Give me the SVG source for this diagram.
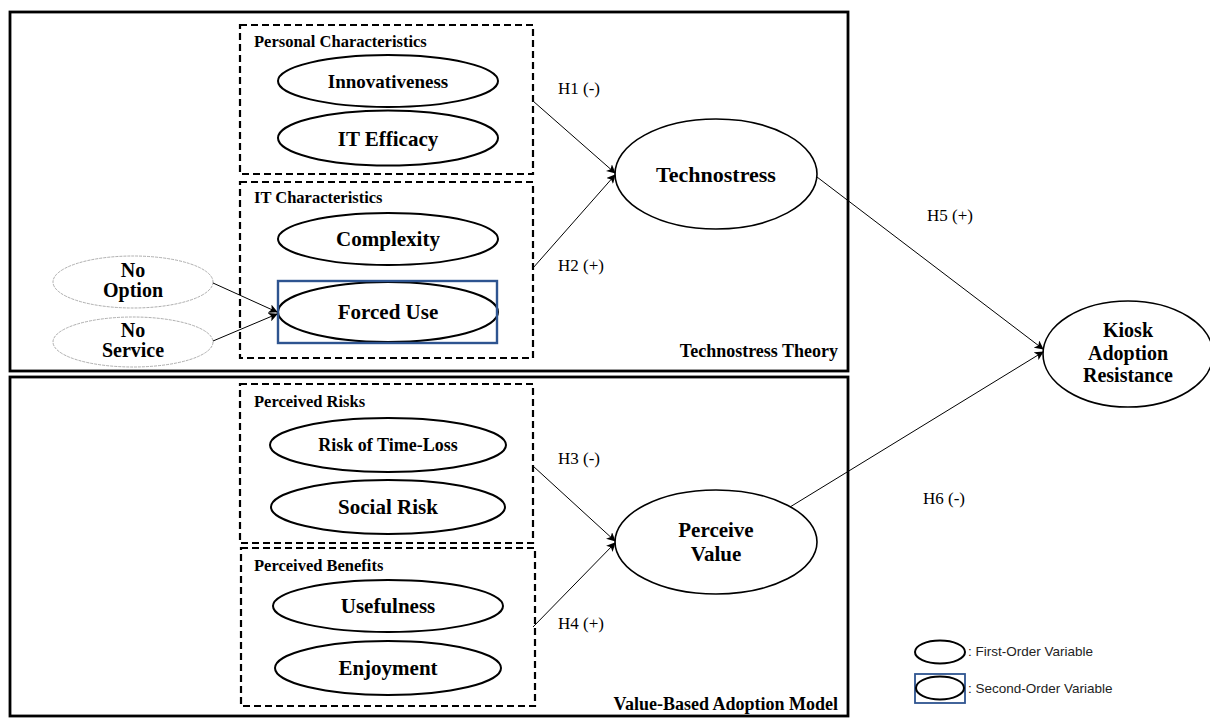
<svg xmlns="http://www.w3.org/2000/svg" width="1210" height="718" viewBox="0 0 1210 718">
<defs>
<marker id="ah" viewBox="0 0 10 10" refX="9" refY="5" markerWidth="9" markerHeight="9" markerUnits="userSpaceOnUse" orient="auto">
<path d="M0,0 L10,5 L0,10 L2.5,5 Z" fill="#000"/>
</marker>
<style>
.outer{fill:none;stroke:#000;stroke-width:2.8}
.dash{fill:none;stroke:#000;stroke-width:2.2;stroke-dasharray:7 4}
.el{fill:#fff;stroke:#000;stroke-width:2}
.big{fill:#fff;stroke:#000;stroke-width:1.6}
.thin{fill:#fff;stroke:#999;stroke-width:0.8;stroke-dasharray:3 1}
.sec{fill:none;stroke:#2e5490;stroke-width:2.4}
.t{font-family:"Liberation Serif",serif;font-weight:bold;text-anchor:middle;fill:#000}
.n{font-size:21px}
.g{font-family:"Liberation Serif",serif;font-weight:bold;font-size:16.5px;fill:#000}
.f{font-family:"Liberation Serif",serif;font-weight:bold;font-size:18px;fill:#000;text-anchor:end}
.h{font-family:"Liberation Serif",serif;font-size:17px;fill:#000}
.lg{font-family:"Liberation Sans",sans-serif;font-size:13.5px;fill:#222}
.c{fill:none;stroke:#000;stroke-width:1;marker-end:url(#ah)}
</style>
</defs>
<rect width="1210" height="718" fill="#fff"/>
<g id="frames">
<rect class="outer" x="10" y="12" width="838" height="359"/>
<rect class="outer" x="10" y="377" width="838" height="339"/>
<text class="f" x="838" y="357">Technostress Theory</text>
<text class="f" x="838" y="710">Value-Based Adoption Model</text>
</g>
<g id="group-personal">
<rect class="dash" x="240" y="25" width="293" height="149"/>
<text class="g" x="254" y="47">Personal Characteristics</text>
</g>
<g id="group-it">
<rect class="dash" x="240" y="182" width="293" height="176"/>
<text class="g" x="254" y="203">IT Characteristics</text>
</g>
<g id="group-risks">
<rect class="dash" x="240" y="384" width="293" height="159"/>
<text class="g" x="254" y="407">Perceived Risks</text>
</g>
<g id="group-benefits">
<rect class="dash" x="241" y="548" width="294" height="158"/>
<text class="g" x="254" y="571">Perceived Benefits</text>
</g>
<g id="innovativeness"><ellipse class="el" cx="388" cy="81" rx="110" ry="26"/><text class="t" x="388" y="88" font-size="19">Innovativeness</text></g>
<g id="it-efficacy"><ellipse class="el" cx="388" cy="138" rx="110" ry="27.5"/><text class="t n" x="388" y="146">IT Efficacy</text></g>
<g id="complexity"><ellipse class="el" cx="388" cy="239" rx="110" ry="26"/><text class="t n" x="388" y="246">Complexity</text></g>
<g id="forced-use"><ellipse class="el" cx="388" cy="312" rx="110" ry="30"/><rect class="sec" x="278" y="281" width="219" height="62"/><text class="t n" x="388" y="319">Forced Use</text></g>
<g id="no-option"><ellipse class="thin" cx="133" cy="282" rx="80" ry="26"/><text class="t" font-size="20" x="133" y="277">No</text><text class="t" font-size="20" x="133" y="297">Option</text></g>
<g id="no-service"><ellipse class="thin" cx="133" cy="342" rx="80" ry="25"/><text class="t" font-size="20" x="133" y="337">No</text><text class="t" font-size="20" x="133" y="357">Service</text></g>
<g id="risk-time"><ellipse class="el" cx="388" cy="445" rx="118" ry="27"/><text class="t" x="388" y="451" font-size="18">Risk of Time-Loss</text></g>
<g id="social-risk"><ellipse class="el" cx="388" cy="507" rx="117" ry="27"/><text class="t n" x="388" y="514">Social Risk</text></g>
<g id="usefulness"><ellipse class="el" cx="388" cy="606" rx="115" ry="26"/><text class="t n" x="388" y="613">Usefulness</text></g>
<g id="enjoyment"><ellipse class="el" cx="388" cy="668" rx="113" ry="27"/><text class="t n" x="388" y="675">Enjoyment</text></g>
<g id="technostress"><ellipse class="big" cx="716" cy="174" rx="101" ry="55"/><text class="t" x="716" y="182" font-size="22">Technostress</text></g>
<g id="perceive-value"><ellipse class="big" cx="716" cy="542" rx="101" ry="52"/><text class="t" x="716" y="537" font-size="21">Perceive</text><text class="t" x="716" y="561" font-size="21">Value</text></g>
<g id="kiosk"><ellipse class="big" cx="1128" cy="354" rx="85" ry="53"/><text class="t" x="1128" y="337" font-size="20">Kiosk</text><text class="t" x="1128" y="359.5" font-size="20">Adoption</text><text class="t" x="1128" y="382" font-size="20">Resistance</text></g>
<g id="connectors">
<line class="c" x1="213" y1="283" x2="277" y2="312"/>
<line class="c" x1="213" y1="341" x2="277" y2="314"/>
<line class="c" x1="533" y1="101" x2="615" y2="173"/>
<line class="c" x1="533" y1="268" x2="615" y2="175"/>
<line class="c" x1="533" y1="466" x2="615" y2="541"/>
<line class="c" x1="533" y1="627" x2="615" y2="543"/>
<line class="c" x1="817" y1="177" x2="1043" y2="349"/>
<line class="c" x1="790" y1="507" x2="1043" y2="352"/>
</g>
<g id="labels">
<text class="h" x="558" y="94">H1 (-)</text>
<text class="h" x="558" y="271">H2 (+)</text>
<text class="h" x="558" y="464">H3 (-)</text>
<text class="h" x="558" y="629">H4 (+)</text>
<text class="h" x="927" y="221">H5 (+)</text>
<text class="h" x="923" y="504">H6 (-)</text>
</g>
<g id="legend">
<ellipse class="el" cx="940" cy="652" rx="25" ry="11.5"/>
<text class="lg" x="968" y="656">: First-Order Variable</text>
<rect x="915" y="674" width="50" height="29" fill="none" stroke="#2e5490" stroke-width="1.8"/>
<ellipse class="el" cx="940" cy="688" rx="24" ry="11.5"/>
<text class="lg" x="968" y="693">: Second-Order Variable</text>
</g>
</svg>
